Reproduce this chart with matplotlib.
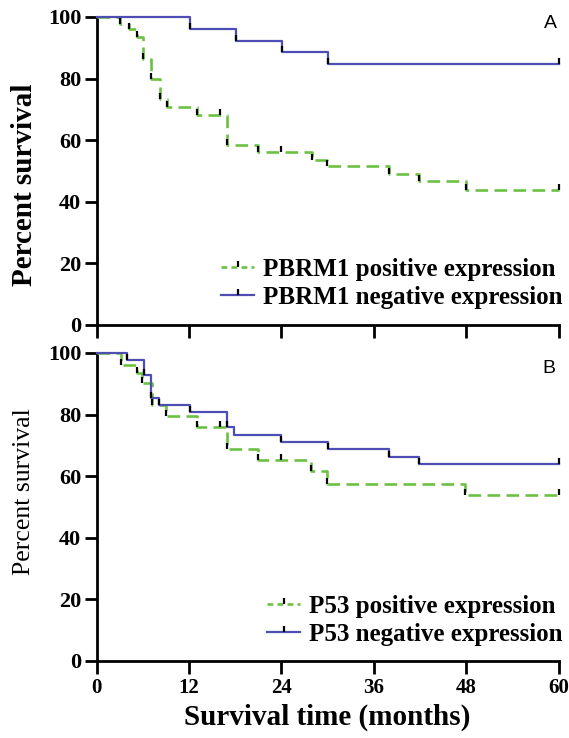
import numpy as np
import matplotlib
matplotlib.use("Agg")
import matplotlib.pyplot as plt
from matplotlib.path import Path
from matplotlib.lines import Line2D

# ---- data ----
x_ticks = [0, 12, 24, 36, 48, 60]
y_ticks = [0, 20, 40, 60, 80, 100]

a_pos_t = [0, 3.1, 4.2, 5.2, 6.1, 7.1, 8.2, 9.1, 13.0, 16.9, 21.0, 28.0, 29.9, 38.0, 41.9, 48.0]
a_pos_s = [100, 97.8, 96.0, 93.5, 86.4, 79.9, 73.4, 70.7, 68.1, 58.6, 56.1, 53.6, 51.6, 49.1, 46.7, 43.8]
a_pos_cens = [3.1, 4.2, 5.2, 6.1, 7.1, 8.2, 9.1, 13.0, 16.0, 16.9, 21.0, 24.0, 28.0, 29.9, 38.0, 41.9, 48.0, 60]

a_neg_t = [0, 12.2, 18.1, 24.1, 30.1]
a_neg_s = [100, 96.2, 92.3, 88.5, 84.6]
a_neg_cens = [12.2, 18.1, 24.1, 30.1, 60]

b_pos_t = [0, 3.2, 5.3, 5.9, 7.2, 9.0, 13.0, 17.0, 21.0, 27.9, 29.9, 47.9]
b_pos_s = [100, 96.2, 93.5, 90.3, 83.0, 79.5, 75.9, 68.8, 65.3, 61.6, 57.6, 53.9]
b_pos_cens = [3.2, 5.3, 5.9, 7.2, 9.0, 13.0, 16.0, 17.0, 21.0, 24.0, 27.9, 29.9, 47.9, 60]

b_neg_t = [0, 4.0, 6.2, 7.1, 8.1, 12.2, 17.0, 17.9, 24.0, 30.0, 38.0, 41.9]
b_neg_s = [100, 97.8, 92.9, 85.4, 83.0, 80.8, 76.0, 73.5, 71.2, 68.8, 66.3, 63.8]
b_neg_cens = [4.0, 6.2, 7.1, 8.1, 12.2, 17.0, 24.0, 30.0, 38.0, 41.9, 60]

labels_a = ["PBRM1 positive expression", "PBRM1 negative expression"]
labels_b = ["P53 positive expression", "P53 negative expression"]

GREEN = "#6cc144"
BLUE = "#4d4db4"
XMAX = 60

tick_marker = Path([(0, 0), (0, 1)], [Path.MOVETO, Path.LINETO])

plt.rcParams['font.family'] = ['Liberation Serif', 'DejaVu Serif']

fig = plt.figure(figsize=(5.69, 7.38), dpi=100)
W, H = 569.0, 738.0

def axes_px(left, top, right, bottom):
    return fig.add_axes([left / W, 1 - bottom / H, (right - left) / W, (bottom - top) / H])

axA = axes_px(96.5, 17, 558.5, 325)
axB = axes_px(96.5, 353, 558.5, 661)

def km(ax, t, s, cens, color, dashed):
    tt = list(t) + [XMAX]
    ss = list(s) + [s[-1]]
    kw = dict(color=color, lw=1.9 if dashed else 1.6, clip_on=False, zorder=3)
    if dashed:
        kw.update(linestyle=(0, (4.8, 2.4)))
    ax.step(tt, ss, where='post', **kw)
    t_arr = np.array(t)
    idx = np.searchsorted(t_arr, np.array(cens), side='right') - 1
    cy = np.array(s)[idx]
    ax.plot(cens, cy, linestyle='none', marker=tick_marker, markersize=9,
            markeredgewidth=1.6, markeredgecolor='black', clip_on=False, zorder=4)

def handle(color, dashed):
    kw = dict(color=color, lw=1.9 if dashed else 1.6, marker=tick_marker,
              markersize=9, markeredgewidth=1.6, markeredgecolor='black')
    if dashed:
        kw.update(linestyle=(0, (2.2, 1.6)))
    return Line2D([], [], **kw)

def style(ax, show_xlabels):
    ax.set_xlim(0, XMAX)
    ax.set_ylim(0, 100)
    ax.set_xticks(x_ticks)
    ax.set_yticks(y_ticks)
    for sp in ['top', 'right']:
        ax.spines[sp].set_visible(False)
    for sp in ['left', 'bottom']:
        ax.spines[sp].set_linewidth(2.0)
    ax.tick_params(axis='both', direction='out', length=9, width=2.0, pad=2)
    ax.tick_params(axis='x', pad=3)
    for lab in ax.get_yticklabels():
        lab.set_fontsize(16)
        lab.set_fontweight('bold')
    if show_xlabels:
        for lab in ax.get_xticklabels():
            lab.set_fontsize(15)
            lab.set_fontweight('bold')
    else:
        ax.set_xticklabels([])

km(axA, a_pos_t, a_pos_s, a_pos_cens, GREEN, True)
km(axA, a_neg_t, a_neg_s, a_neg_cens, BLUE, False)
km(axB, b_pos_t, b_pos_s, b_pos_cens, GREEN, True)
km(axB, b_neg_t, b_neg_s, b_neg_cens, BLUE, False)

style(axA, False)
style(axB, True)

legprops = dict(loc='lower right', frameon=False, borderpad=0, borderaxespad=0,
                handlelength=1.3, handletextpad=0.35, labelspacing=0.2, numpoints=1,
                prop=dict(family='Liberation Serif', weight='bold', size=18))
axA.legend([handle(GREEN, True), handle(BLUE, False)], labels_a,
           bbox_to_anchor=(1.008, 0.052), **legprops)
axB.legend([handle(GREEN, True), handle(BLUE, False)], labels_b,
           bbox_to_anchor=(1.008, 0.05), **legprops)

fig.text(550 / W, 1 - 23 / H, "A", family='Liberation Sans', fontsize=14, ha='center', va='center')
fig.text(549 / W, 1 - 368 / H, "B", family='Liberation Sans', fontsize=14, ha='center', va='center')

fig.text(25 / W, 1 - 185 / H, "Percent survival", rotation=90, fontsize=21, fontweight='bold',
         ha='center', va='center')
fig.text(24 / W, 1 - 492 / H, "Percent survival", rotation=90, fontsize=18.5,
         ha='center', va='center')
fig.text(327 / W, 1 - 717 / H, "Survival time (months)", fontsize=21, fontweight='bold',
         ha='center', va='center')

fig.savefig("out.png", dpi=100)
